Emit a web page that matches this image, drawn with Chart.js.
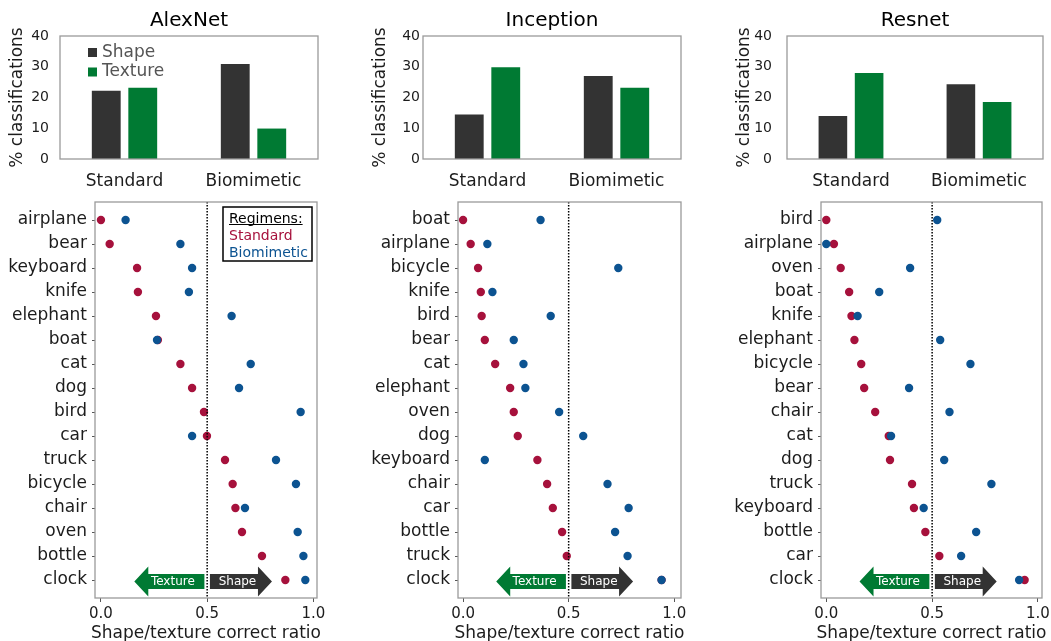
<!DOCTYPE html>
<html>
<head>
<meta charset="utf-8">
<script src="https://cdn.jsdelivr.net/npm/chart.js@4.4.1/dist/chart.umd.min.js"></script>
<style>
  html, body { margin: 0; padding: 0; background: #fff; overflow: hidden; }
  #stage { position: relative; width: 1051px; height: 641px; overflow: hidden; }
  #stage canvas { position: absolute; left: 0; top: 0; }
</style>
</head>
<body>
<div id="stage"></div>
<script>
const FONT = "'DejaVu Sans', sans-serif";
const CANVAS_W = 1200;
const CANVAS_H = 720;

// top row: % of classifications driven by shape vs texture
const REGIMENS = ["Standard", "Biomimetic"];
const BAR_TICKS = [0, 10, 20, 30, 40];
const ALEXNET_SHAPE = [22.2, 30.9];
const ALEXNET_TEXTURE = [23.2, 9.9];
const INCEPTION_SHAPE = [14.5, 27.0];
const INCEPTION_TEXTURE = [29.8, 23.2];
const RESNET_SHAPE = [14.0, 24.3];
const RESNET_TEXTURE = [28.0, 18.5];

// bottom row: shape/texture correct ratio per class
const RATIO_TICKS = [0, 0.5, 1];
const ALEXNET_CLASSES = ["airplane", "bear", "keyboard", "knife", "elephant", "boat", "cat", "dog", "bird", "car", "truck", "bicycle", "chair", "oven", "bottle", "clock"];
const ALEXNET_STANDARD = [0.0, 0.041, 0.170, 0.174, 0.259, 0.268, 0.374, 0.429, 0.485, 0.499, 0.584, 0.620, 0.633, 0.664, 0.758, 0.868];
const ALEXNET_BIOMIMETIC = [0.116, 0.374, 0.429, 0.414, 0.615, 0.264, 0.705, 0.650, 0.940, 0.429, 0.824, 0.918, 0.678, 0.926, 0.953, 0.962];
const INCEPTION_CLASSES = ["boat", "airplane", "bicycle", "knife", "bird", "bear", "cat", "elephant", "oven", "dog", "keyboard", "chair", "car", "bottle", "truck", "clock"];
const INCEPTION_STANDARD = [0.0, 0.036, 0.071, 0.084, 0.088, 0.103, 0.152, 0.223, 0.240, 0.259, 0.352, 0.398, 0.425, 0.469, 0.491, 0.940];
const INCEPTION_BIOMIMETIC = [0.367, 0.115, 0.735, 0.139, 0.415, 0.240, 0.286, 0.295, 0.455, 0.569, 0.103, 0.684, 0.784, 0.720, 0.779, 0.940];
const RESNET_CLASSES = ["bird", "airplane", "oven", "boat", "knife", "elephant", "bicycle", "bear", "chair", "cat", "dog", "truck", "keyboard", "bottle", "car", "clock"];
const RESNET_STANDARD = [0.0, 0.036, 0.068, 0.108, 0.119, 0.133, 0.165, 0.179, 0.231, 0.295, 0.301, 0.405, 0.414, 0.468, 0.534, 0.937];
const RESNET_BIOMIMETIC = [0.524, 0.0, 0.396, 0.250, 0.148, 0.538, 0.681, 0.391, 0.582, 0.306, 0.557, 0.780, 0.460, 0.708, 0.637, 0.911];

// arrow annotations (from, to) on the ratio axis
const TEXTURE_ARROW = [0.487, 0.157];
const SHAPE_ARROW = [0.513, 0.805];

const SHAPE_COLOR = "#333333";
const TEXTURE_COLOR = "#007a33";
const STANDARD_COLOR = "#a6113c";
const BIOMIMETIC_COLOR = "#0c5391";
const TEXT_COLOR = "#1c1c1c";
const SPINE_COLOR = "#9a9a9a";

const PANELS = [
  { title: "AlexNet", barBox: [60, 36, 318, 159], barTickGap: 11, dotBox: [95, 202, 317, 598], range: [-0.028, 1.017],
    shape: ALEXNET_SHAPE, texture: ALEXNET_TEXTURE, classes: ALEXNET_CLASSES, standard: ALEXNET_STANDARD, biomimetic: ALEXNET_BIOMIMETIC, legends: true },
  { title: "Inception", barBox: [423, 36, 681, 159], barTickGap: 3, dotBox: [458, 202, 681, 598], range: [-0.024, 1.032],
    shape: INCEPTION_SHAPE, texture: INCEPTION_TEXTURE, classes: INCEPTION_CLASSES, standard: INCEPTION_STANDARD, biomimetic: INCEPTION_BIOMIMETIC, legends: false },
  { title: "Resnet", barBox: [787, 36, 1043, 159], barTickGap: 15, dotBox: [821, 202, 1042, 598], range: [-0.025, 1.019],
    shape: RESNET_SHAPE, texture: RESNET_TEXTURE, classes: RESNET_CLASSES, standard: RESNET_STANDARD, biomimetic: RESNET_BIOMIMETIC, legends: false },
];

function makeCanvas() {
  const canvas = document.createElement("canvas");
  canvas.width = CANVAS_W;
  canvas.height = CANVAS_H;
  canvas.style.width = CANVAS_W + "px";
  canvas.style.height = CANVAS_H + "px";
  document.getElementById("stage").appendChild(canvas);
  return canvas;
}

function drawText(ctx, text, x, y, size, color, align = "center", baseline = "alphabetic") {
  ctx.font = `${size}px ${FONT}`;
  ctx.fillStyle = color;
  ctx.textAlign = align;
  ctx.textBaseline = baseline;
  ctx.fillText(text, x, y);
}

const framePlugin = {
  id: "frame",
  afterDraw(chart) {
    const { ctx, chartArea: a } = chart;
    ctx.save();
    ctx.strokeStyle = SPINE_COLOR;
    ctx.lineWidth = 1.3;
    ctx.strokeRect(a.left, a.top, a.right - a.left, a.bottom - a.top);
    ctx.restore();
  },
};

function barDecor(panel) {
  return {
    id: "barDecor",
    afterDraw(chart) {
      const { ctx, chartArea: a } = chart;
      ctx.save();
      drawText(ctx, panel.title, (a.left + a.right) / 2, 26, 20, "#000");
      ctx.translate(a.left - 42, (a.top + a.bottom) / 2);
      ctx.rotate(-Math.PI / 2);
      drawText(ctx, "% classifications", 0, 0, 17, TEXT_COLOR, "center", "middle");
      ctx.restore();
      if (panel.legends) {
        ctx.save();
        chart.data.datasets.forEach((ds, i) => {
          const cy = a.top + 16.5 + i * 19.5;
          ctx.fillStyle = ds.backgroundColor;
          ctx.fillRect(a.left + 28, cy - 4.5, 9, 9);
          drawText(ctx, ds.label, a.left + 42, cy, 17, "#555555", "left", "middle");
        });
        ctx.restore();
      }
    },
  };
}

function drawArrow(ctx, xFrom, xTo, yc, color, label) {
  const dir = Math.sign(xTo - xFrom);
  const head = 14, bodyH = 7.5, headH = 15;
  const base = xTo - dir * head;
  ctx.beginPath();
  ctx.moveTo(xFrom, yc - bodyH);
  ctx.lineTo(base, yc - bodyH);
  ctx.lineTo(base, yc - headH);
  ctx.lineTo(xTo, yc);
  ctx.lineTo(base, yc + headH);
  ctx.lineTo(base, yc + bodyH);
  ctx.lineTo(xFrom, yc + bodyH);
  ctx.closePath();
  ctx.fillStyle = color;
  ctx.fill();
  drawText(ctx, label, (xFrom + base) / 2 + dir * 3.5, yc + 0.5, 12, "#ffffff", "center", "middle");
}

function dotDecor(panel) {
  return {
    id: "dotDecor",
    afterDatasetsDraw(chart) {
      const { ctx, chartArea: a, scales } = chart;
      const x = scales.x, y = scales.y;
      const yc = y.getPixelForValue(panel.classes.length - 1) + 1.5;
      ctx.save();
      drawArrow(ctx, x.getPixelForValue(TEXTURE_ARROW[0]), x.getPixelForValue(TEXTURE_ARROW[1]), yc, TEXTURE_COLOR, "Texture");
      drawArrow(ctx, x.getPixelForValue(SHAPE_ARROW[0]), x.getPixelForValue(SHAPE_ARROW[1]), yc, SHAPE_COLOR, "Shape");
      const xm = x.getPixelForValue(0.5);
      ctx.strokeStyle = "#000";
      ctx.lineWidth = 1.5;
      ctx.setLineDash([1.5, 1.5]);
      ctx.beginPath();
      ctx.moveTo(xm, a.top);
      ctx.lineTo(xm, a.bottom);
      ctx.stroke();
      ctx.restore();
    },
    afterDraw(chart) {
      const { ctx, chartArea: a } = chart;
      ctx.save();
      drawText(ctx, "Shape/texture correct ratio", (a.left + a.right) / 2, a.bottom + 40, 17, TEXT_COLOR);
      if (panel.legends) {
        const bx = a.left + 128, by = a.top + 5, bw = 89, bh = 54;
        ctx.fillStyle = "#fff";
        ctx.fillRect(bx, by, bw, bh);
        ctx.strokeStyle = "#000";
        ctx.lineWidth = 1.5;
        ctx.strokeRect(bx, by, bw, bh);
        drawText(ctx, "Regimens:", bx + 6, by + 15.5, 14, "#000", "left");
        const w = ctx.measureText("Regimens:").width;
        ctx.strokeStyle = "#000";
        ctx.lineWidth = 1;
        ctx.beginPath();
        ctx.moveTo(bx + 6, by + 17.5);
        ctx.lineTo(bx + 6 + w, by + 17.5);
        ctx.stroke();
        drawText(ctx, "Standard", bx + 6, by + 33, 14, STANDARD_COLOR, "left");
        drawText(ctx, "Biomimetic", bx + 6, by + 49.5, 14, BIOMIMETIC_COLOR, "left");
      }
      ctx.restore();
    },
  };
}

function makeBarChart(panel) {
  const [left, top, right, bottom] = panel.barBox;
  const yW = 55, xH = 40;
  return new Chart(makeCanvas(), {
    type: "bar",
    data: {
      labels: REGIMENS,
      datasets: [
        { label: "Shape", data: panel.shape, backgroundColor: SHAPE_COLOR, categoryPercentage: 0.566, barPercentage: 0.79 },
        { label: "Texture", data: panel.texture, backgroundColor: TEXTURE_COLOR, categoryPercentage: 0.566, barPercentage: 0.79 },
      ],
    },
    options: {
      responsive: false,
      animation: false,
      events: [],
      layout: { padding: { left: left - yW, top, right: CANVAS_W - right, bottom: CANVAS_H - bottom - xH } },
      plugins: { legend: { display: false }, tooltip: { enabled: false } },
      scales: {
        x: {
          grid: { display: false, drawTicks: false },
          border: { display: false },
          ticks: { font: { family: FONT, size: 17 }, color: TEXT_COLOR, padding: 12, maxRotation: 0, autoSkip: false },
          afterFit: (s) => { s.height = xH; },
        },
        y: {
          min: 0,
          max: 40,
          afterBuildTicks: (s) => { s.ticks = BAR_TICKS.map((v) => ({ value: v })); },
          grid: { display: false, drawTicks: false },
          border: { display: false },
          ticks: { font: { family: FONT, size: 14 }, color: TEXT_COLOR, padding: panel.barTickGap },
          afterFit: (s) => { s.width = yW; },
        },
      },
    },
    plugins: [framePlugin, barDecor(panel)],
  });
}

function makeDotChart(panel) {
  const [left, top, right, bottom] = panel.dotBox;
  const yW = 90, xH = 45;
  const n = panel.classes.length;
  return new Chart(makeCanvas(), {
    type: "scatter",
    data: {
      datasets: [
        { label: "Biomimetic", data: panel.biomimetic.map((v, i) => ({ x: v, y: i })), backgroundColor: BIOMIMETIC_COLOR, order: 1 },
        { label: "Standard", data: panel.standard.map((v, i) => ({ x: v, y: i })), backgroundColor: STANDARD_COLOR, order: 2 },
      ],
    },
    options: {
      responsive: false,
      animation: false,
      events: [],
      elements: { point: { radius: 4.2, borderWidth: 0 } },
      layout: { padding: { left: left - yW, top, right: CANVAS_W - right, bottom: CANVAS_H - bottom - xH } },
      plugins: { legend: { display: false }, tooltip: { enabled: false } },
      scales: {
        x: {
          type: "linear",
          min: panel.range[0],
          max: panel.range[1],
          afterBuildTicks: (s) => { s.ticks = RATIO_TICKS.map((v) => ({ value: v })); },
          grid: { drawOnChartArea: false, drawTicks: true, tickLength: 4, color: "#555" },
          border: { display: false },
          ticks: { font: { family: FONT, size: 15 }, color: TEXT_COLOR, padding: 3, callback: (v) => Number(v).toFixed(1) },
          afterFit: (s) => { s.height = xH; },
        },
        y: {
          type: "linear",
          reverse: true,
          min: -0.75,
          max: n - 0.25,
          afterBuildTicks: (s) => { s.ticks = panel.classes.map((_, i) => ({ value: i })); },
          grid: { drawOnChartArea: false, drawTicks: true, tickLength: 3, color: "#555" },
          border: { display: false },
          ticks: { font: { family: FONT, size: 17 }, color: TEXT_COLOR, padding: 5, callback: (v) => panel.classes[Math.round(v)] },
          afterFit: (s) => { s.width = yW; },
        },
      },
    },
    plugins: [framePlugin, dotDecor(panel)],
  });
}

for (const panel of PANELS) {
  makeBarChart(panel);
  makeDotChart(panel);
}
</script>
</body>
</html>
